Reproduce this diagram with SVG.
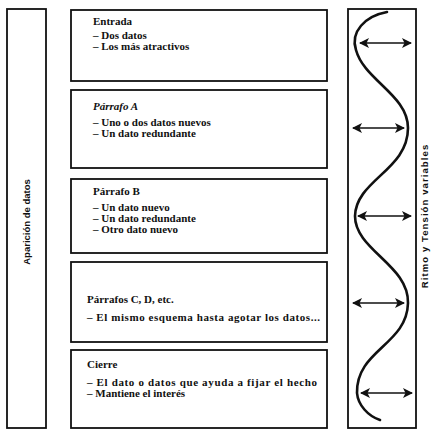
<svg xmlns="http://www.w3.org/2000/svg" width="431" height="430" viewBox="0 0 431 430">
<defs>
<style>
.frame{fill:none;stroke:#111;stroke-width:1.8}
.t{font-family:"Liberation Serif","Times New Roman",serif;font-size:11px;font-weight:bold;fill:#111}
.side{font-family:"Liberation Sans",Arial,sans-serif;font-size:9.5px;font-weight:bold;fill:#111}
.wave{fill:none;stroke:#111;stroke-width:2.6;stroke-linecap:round}
.arr{stroke:#111;stroke-width:1.5;fill:none}
</style>
<marker id="ah" viewBox="0 0 10 10" refX="9" refY="5" markerWidth="11" markerHeight="10" markerUnits="userSpaceOnUse" orient="auto-start-reverse">
<path d="M0,0 L10,5 L0,10 L2.5,5 Z" fill="#111"/>
</marker>
</defs>
<rect width="431" height="430" fill="#fff"/>

<g id="left-panel">
<rect class="frame" x="7" y="9" width="39" height="419"/>
<text class="side" transform="translate(30,222) rotate(-90)" text-anchor="middle">Aparición de datos</text>
</g>

<g id="entrada">
<rect class="frame" x="71" y="10" width="256" height="71"/>
<text class="t" x="93" y="25">Entrada</text>
<text class="t" x="93" y="39">– Dos datos</text>
<text class="t" x="93" y="50">– Los más atractivos</text>
</g>

<g id="parrafo-a">
<rect class="frame" x="71" y="90" width="256" height="78"/>
<text class="t" x="93" y="110" font-style="italic">Párrafo A</text>
<text class="t" x="93" y="126">– Uno o dos datos nuevos</text>
<text class="t" x="93" y="137">– Un dato redundante</text>
</g>

<g id="parrafo-b">
<rect class="frame" x="71" y="179" width="256" height="74"/>
<text class="t" x="93" y="195">Párrafo B</text>
<text class="t" x="93" y="211">– Un dato nuevo</text>
<text class="t" x="93" y="222">– Un dato redundante</text>
<text class="t" x="93" y="233">– Otro dato nuevo</text>
</g>

<g id="parrafos-c-d">
<rect class="frame" x="71" y="262" width="256" height="80"/>
<text class="t" x="87" y="303">Párrafos C, D, etc.</text>
<text class="t" x="87" y="321" textLength="233">– El mismo esquema hasta agotar los datos...</text>
</g>

<g id="cierre">
<rect class="frame" x="71" y="350" width="256" height="78"/>
<text class="t" x="87" y="368">Cierre</text>
<text class="t" x="87" y="386" textLength="230">– El dato o datos que ayuda a fijar el hecho</text>
<text class="t" x="87" y="397">– Mantiene el interés</text>
</g>

<g id="right-panel">
<rect class="frame" x="348" y="9" width="68" height="419"/>
<text class="side" transform="translate(428,216) rotate(-90)" text-anchor="middle" font-size="10.5" letter-spacing="1.1">Ritmo y Tensión variables</text>
</g>

<g id="connectors">
<path class="wave" d="M387,12 C365,16 350,32 356,50 C364,80 408,95 408,128 C408,170 356,180 355,216 C355,250 409,265 408,303 C407,345 356,350 357,393 C358,405 368,416 380,420"/>
<line class="arr" x1="360" y1="43" x2="411" y2="43" marker-start="url(#ah)" marker-end="url(#ah)"/>
<line class="arr" x1="353" y1="128" x2="404" y2="128" marker-start="url(#ah)" marker-end="url(#ah)"/>
<line class="arr" x1="358" y1="216" x2="411" y2="216" marker-start="url(#ah)" marker-end="url(#ah)"/>
<line class="arr" x1="353" y1="303" x2="404" y2="303" marker-start="url(#ah)" marker-end="url(#ah)"/>
<line class="arr" x1="361" y1="393" x2="412" y2="393" marker-start="url(#ah)" marker-end="url(#ah)"/>
</g>
</svg>
